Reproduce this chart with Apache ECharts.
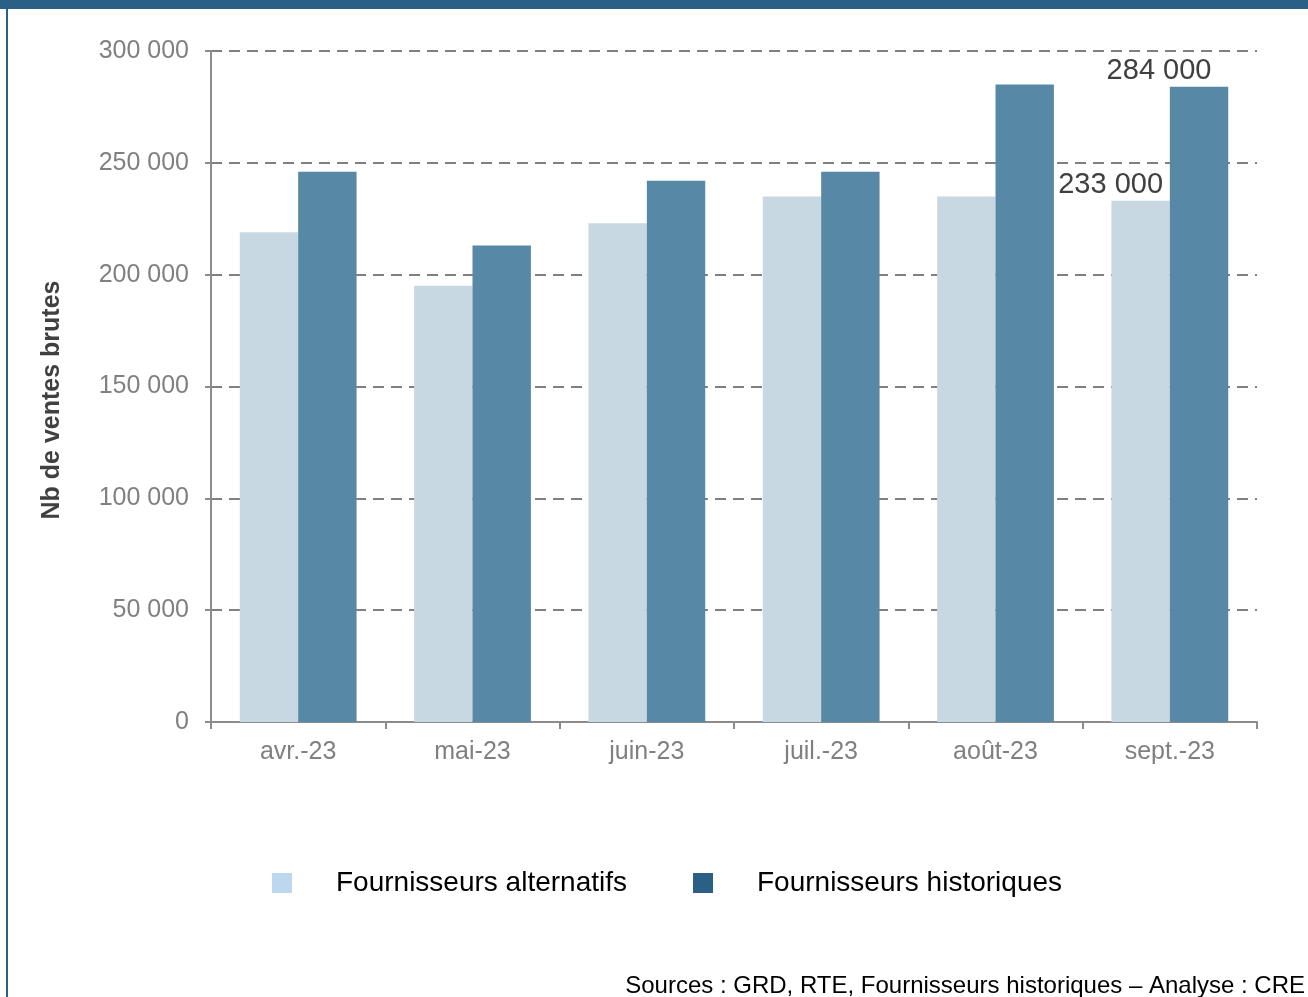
<!DOCTYPE html>
<html>
<head>
<meta charset="utf-8">
<script src="https://cdn.jsdelivr.net/npm/echarts@6/dist/echarts.min.js"></script>
<style>
html,body{margin:0;padding:0;background:#fff;}
#chart{width:1308px;height:997px;}
</style>
</head>
<body>
<div id="chart"></div>
<script>
var categories = ['avr.-23', 'mai-23', 'juin-23', 'juil.-23', 'août-23', 'sept.-23'];
var alternatifs = [219000, 195000, 223000, 235000, 235000, 233000];
var historiques = [246000, 213000, 242000, 246000, 285000, 284000];
var yTicks = [0, 50000, 100000, 150000, 200000, 250000, 300000];
var seriesNames = ['Fournisseurs alternatifs', 'Fournisseurs historiques'];
var yTitle = 'Nb de ventes brutes';
var sourceText = 'Sources : GRD, RTE, Fournisseurs historiques \u2013 Analyse : CRE';

var FONT = '"Liberation Sans", Arial, sans-serif';
function fmt(v) { return String(v).replace(/\B(?=(\d{3})+(?!\d))/g, ' '); }

function withLastLabel(arr, offsetX) {
  return arr.map(function (v, i) {
    if (i === arr.length - 1) {
      return {
        value: v,
        label: {
          show: true, position: 'top', distance: 1, offset: [offsetX, 0],
          formatter: function (p) { return fmt(p.value); },
          fontFamily: FONT, fontSize: 29, color: '#404040'
        }
      };
    }
    return v;
  });
}

var chart = echarts.init(document.getElementById('chart'), null, { renderer: 'canvas' });
chart.setOption({
  animation: false,
  backgroundColor: '#ffffff',
  textStyle: { fontFamily: FONT },
  grid: { left: 211, right: 51, top: 51, bottom: 275, containLabel: false },
  legend: {
    data: [
      { name: seriesNames[0], itemStyle: { color: '#BDD7EE' } },
      { name: seriesNames[1], itemStyle: { color: '#2A5F86' } }
    ],
    left: 272, top: 869, padding: 0,
    icon: 'rect', itemWidth: 20, itemHeight: 20, itemGap: 66,
    textStyle: { fontFamily: FONT, fontSize: 28, color: '#000000', padding: [0, 0, 0, 39] }
  },
  xAxis: {
    type: 'category',
    data: categories,
    axisLine: { lineStyle: { color: '#8C8C8C', width: 2 } },
    axisTick: { show: true, length: 7, lineStyle: { color: '#8C8C8C', width: 2 } },
    axisLabel: { fontFamily: FONT, fontSize: 25, color: '#808080', margin: 18 }
  },
  yAxis: {
    type: 'value',
    min: 0, max: 300000, interval: 50000,
    axisLine: { show: true, lineStyle: { color: '#8C8C8C', width: 2 } },
    axisTick: { show: true, length: 6, inside: false, lineStyle: { color: '#8C8C8C', width: 2 } },
    axisLabel: {
      fontFamily: FONT, fontSize: 25, color: '#808080', margin: 22,
      formatter: function (v) { return yTicks.indexOf(v) >= 0 ? fmt(v) : ''; }
    },
    splitLine: { show: true, lineStyle: { color: '#808080', width: 2, type: [11, 7] } }
  },
  series: [
    {
      name: seriesNames[0], type: 'bar',
      data: withLastLabel(alternatifs, -30),
      itemStyle: { color: '#C7D8E2' },
      barGap: '0%', barCategoryGap: '33%'
    },
    {
      name: seriesNames[1], type: 'bar',
      data: withLastLabel(historiques, -40),
      itemStyle: { color: '#5788A6' },
      barGap: '0%', barCategoryGap: '33%'
    }
  ],
  graphic: [
    { type: 'rect', shape: { x: 0, y: 0, width: 1308, height: 9 }, style: { fill: '#2A5F86' }, z: 100 },
    { type: 'rect', shape: { x: 6, y: 0, width: 2, height: 997 }, style: { fill: '#2A5F86' }, z: 100 },
    {
      type: 'text', x: 52, y: 400, rotation: Math.PI / 2,
      style: { text: yTitle, font: 'bold 25px ' + FONT, fill: '#404040', align: 'center', verticalAlign: 'middle' }
    },
    {
      type: 'text', right: 3, top: 974,
      style: { text: sourceText, font: '24px ' + FONT, fill: '#000000' }
    }
  ]
});
</script>
</body>
</html>
